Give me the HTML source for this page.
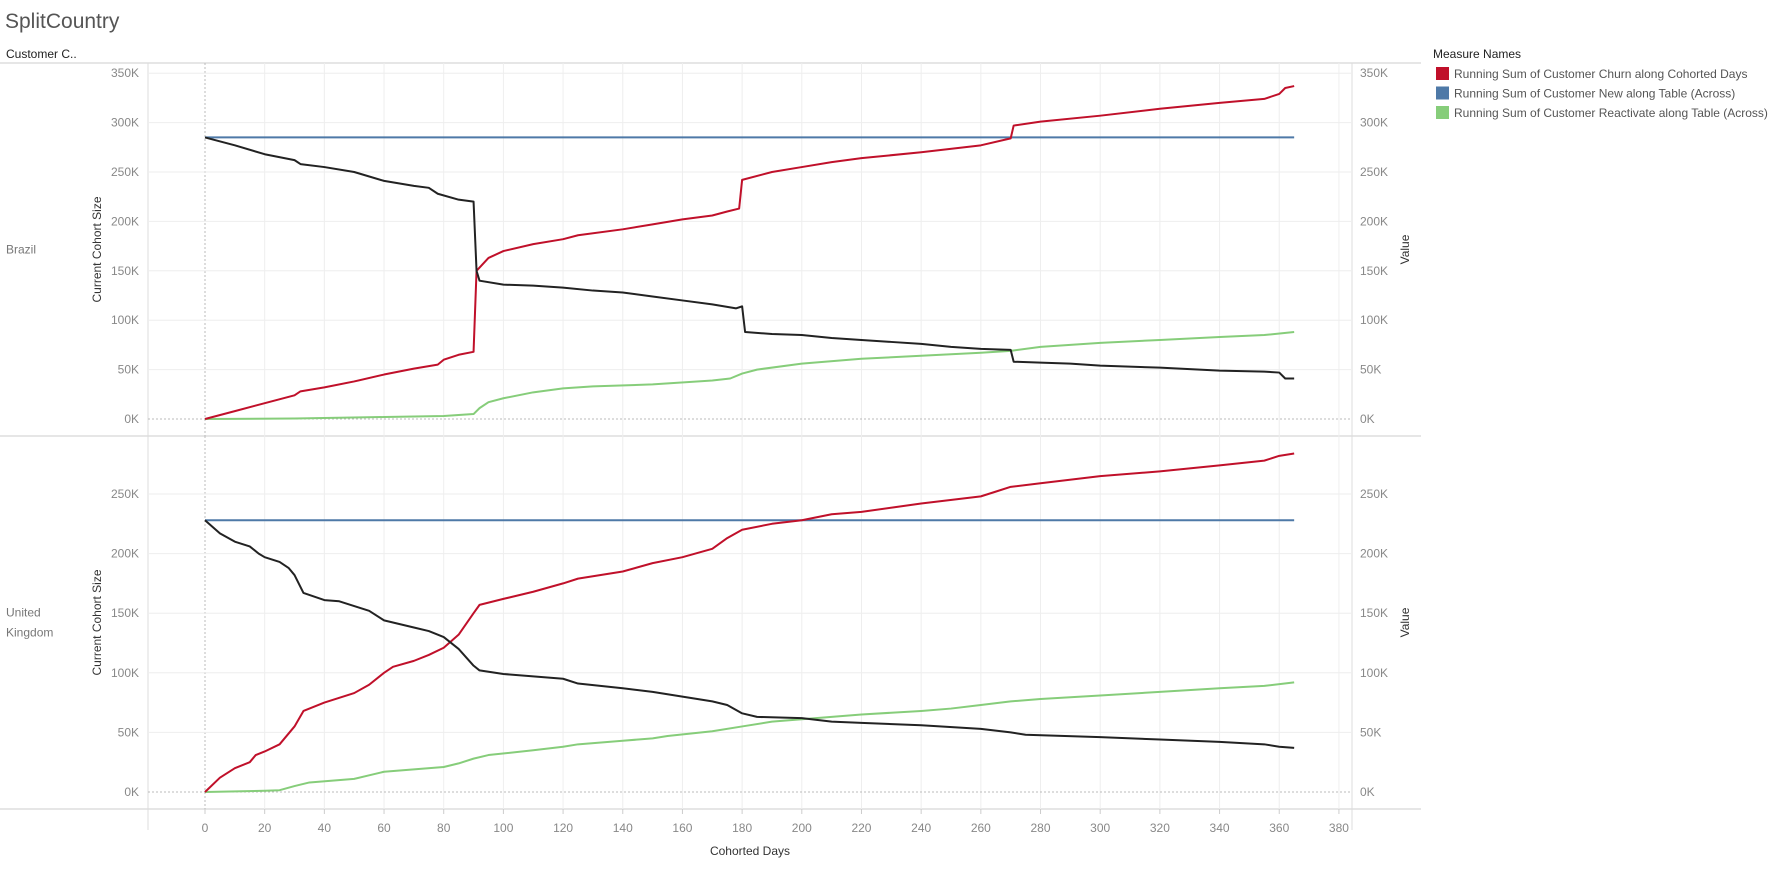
<!DOCTYPE html>
<html><head><meta charset="utf-8"><style>
body{margin:0;background:#fff;font-family:"Liberation Sans",sans-serif;}
svg text{font-family:"Liberation Sans",sans-serif;}
</style></head><body>
<svg id="c" width="1785" height="867" xmlns="http://www.w3.org/2000/svg">
<text x="5" y="28" font-size="21" fill="#555">SplitCountry</text>
<text x="6" y="58" font-size="12" fill="#222">Customer C..</text>
<text x="1433" y="58" font-size="12" fill="#222">Measure Names</text>
<g id="legend"></g>
<g id="plot"></g>
</svg>
<script>
const xTicks=[0,20,40,60,80,100,120,140,160,180,200,220,240,260,280,300,320,340,360,380];
const brYTicks=[0,50,100,150,200,250,300,350];
const ukYTicks=[0,50,100,150,200,250];
const brNew=285, ukNew=228, newEnd=365;
const brChurnD=[0,10,20,30,32,40,50,60,70,78,80,85,90,91,95,100,110,120,125,140,150,160,170,175,179,180,190,200,210,220,240,260,270,271,280,300,320,340,355,360,362,365];
const brChurnV=[0,8,16,24,28,32,38,45,51,55,60,65,68,150,163,170,177,182,186,192,197,202,206,210,213,242,250,255,260,264,270,277,284,297,301,307,314,320,324,329,335,337];
const brSizeD=[0,10,20,30,32,40,50,60,70,75,78,85,90,91,92,100,110,120,130,140,150,160,170,178,180,181,190,200,210,220,230,240,250,260,270,271,280,290,300,320,340,355,360,362,365];
const brSizeV=[285,277,268,262,258,255,250,241,236,234,228,222,220,150,140,136,135,133,130,128,124,120,116,112,114,88,86,85,82,80,78,76,73,71,70,58,57,56,54,52,49,48,47,41,41];
const brReactD=[0,30,60,80,90,92,95,100,110,120,130,150,170,176,180,185,200,220,240,260,270,280,300,320,340,355,365];
const brReactV=[0,0.5,2,3,5,11,17,21,27,31,33,35,39,41,46,50,56,61,64,67,69,73,77,80,83,85,88];
const ukSizeD=[0,5,10,15,18,20,25,28,30,33,40,45,50,55,60,70,75,80,85,90,92,100,110,120,125,140,150,160,170,175,180,185,200,210,220,240,260,270,275,300,320,340,355,360,365];
const ukSizeV=[228,217,210,206,200,197,193,188,182,167,161,160,156,152,144,138,135,130,120,106,102,99,97,95,91,87,84,80,76,73,66,63,62,59,58,56,53,50,48,46,44,42,40,38,37];
const ukChurnD=[0,5,10,15,17,20,25,30,33,40,45,50,55,60,63,70,75,80,85,90,92,100,110,120,125,140,150,160,170,175,180,190,200,210,220,240,260,265,270,280,300,320,340,355,360,365];
const ukChurnV=[0,12,20,25,31,34,40,55,68,75,79,83,90,100,105,110,115,121,132,150,157,162,168,175,179,185,192,197,204,213,220,225,228,233,235,242,248,252,256,259,265,269,274,278,282,284];
const ukReactD=[0,20,25,30,35,50,55,60,70,80,85,90,95,110,120,125,140,150,155,170,180,190,200,210,220,240,250,260,270,280,300,320,340,355,365];
const ukReactV=[0,1,1.5,5,8,11,14,17,19,21,24,28,31,35,38,40,43,45,47,51,55,59,61,63,65,68,70,73,76,78,81,84,87,89,92];

const NS="http://www.w3.org/2000/svg";
const plot=document.getElementById('plot');
function mk(tag,attrs,parent){const e=document.createElementNS(NS,tag);for(const k in attrs)e.setAttribute(k,attrs[k]);(parent||plot).appendChild(e);return e;}
const xS=d=>205+d*2.984;
const RED="#c0102a",BLUE="#4e79a7",GREEN="#86cd7a",BLACK="#222";

function panel(top,bottom,y0,per50,yTicks,name,label,sizeD,sizeV,churnD,churnV,reactD,reactV,newV){
  const yS=v=>y0-v/50*per50;
  const g=mk('g',{});
  
  
  xTicks.forEach(t=>{const l=mk('line',{x1:xS(t),x2:xS(t),y1:top,y2:bottom,stroke:t===0?'#bbb':'#eee','stroke-dasharray':t===0?'2,2':'none'},g);
    });
  yTicks.forEach(t=>{const y=yS(t);
    const l=mk('line',{x1:148,x2:1352,y1:y,y2:y,stroke:t===0?'#bbb':'#eee','stroke-dasharray':t===0?'2,2':'none'},g);
    
    const a=mk('text',{x:139,y:y+4,'font-size':12,fill:'#888','text-anchor':'end'},g);a.textContent=t+'K';
    
    const b=mk('text',{x:1360,y:y+4,'font-size':12,fill:'#888'},g);b.textContent=t+'K';
    });
  const mid=(top+bottom)/2;
  const t1=mk('text',{x:0,y:0,'font-size':12,fill:'#333','text-anchor':'middle',transform:`translate(101,${mid}) rotate(-90)`},g);t1.textContent='Current Cohort Size';
  
  const t2=mk('text',{x:0,y:0,'font-size':12,fill:'#333','text-anchor':'middle',transform:`translate(1409,${mid}) rotate(-90)`},g);t2.textContent='Value';
  
  label.forEach((s,i)=>{const t=mk('text',{x:6,y:(label.length>1?mid-10:mid)+4+i*20,'font-size':12,fill:'#777'},g);t.textContent=s;
    });
  const line=(D,V,col,n)=>{const p=mk('polyline',{points:D.map((d,i)=>xS(d)+','+yS(V[i])).join(' '),fill:'none',stroke:col,'stroke-width':2,'stroke-linejoin':'round'},g);
    };
  line([0,newEnd],[newV,newV],BLUE,name+'-new-line');
  line(reactD,reactV,GREEN,name+'-reactivate-line');
  line(churnD,churnV,RED,name+'-churn-line');
  line(sizeD,sizeV,BLACK,name+'-cohort-size-line');
}
// frame lines
[[0,1421,63,63],[0,1421,436,436],[0,1421,809,809]].forEach(a=>{const l=mk('line',{x1:a[0],x2:a[1],y1:a[2],y2:a[3],stroke:'#ccc'});
  });
[148,1352].forEach(x=>{const l=mk('line',{x1:x,x2:x,y1:63,y2:830,stroke:'#ddd'});
  });
panel(63,436,419,49.4,brYTicks,'brazil',['Brazil'],brSizeD,brSizeV,brChurnD,brChurnV,brReactD,brReactV,brNew);
panel(436,809,792,59.6,ukYTicks,'uk',['United','Kingdom'],ukSizeD,ukSizeV,ukChurnD,ukChurnV,ukReactD,ukReactV,ukNew);
xTicks.forEach(t=>{const tk=mk('line',{x1:xS(t),x2:xS(t),y1:809,y2:814,stroke:'#ccc'});
  
  const a=mk('text',{x:xS(t),y:832,'font-size':12,fill:'#888','text-anchor':'middle'});a.textContent=t;
  });
const xt=mk('text',{x:750,y:855,'font-size':12,fill:'#333','text-anchor':'middle'});xt.textContent='Cohorted Days';

const leg=document.getElementById('legend');
[[RED,'Running Sum of Customer Churn along Cohorted Days'],[BLUE,'Running Sum of Customer New along Table (Across)'],[GREEN,'Running Sum of Customer Reactivate along Table (Across)']].forEach((e,i)=>{
  const y=67+i*19.5;
  const r=mk('rect',{x:1436,y:y,width:13,height:13,fill:e[0]},leg);
  
  const t=mk('text',{x:1454,y:y+11,'font-size':12,fill:'#555'},leg);t.textContent=e[1];
  });
</script>
</body></html>
